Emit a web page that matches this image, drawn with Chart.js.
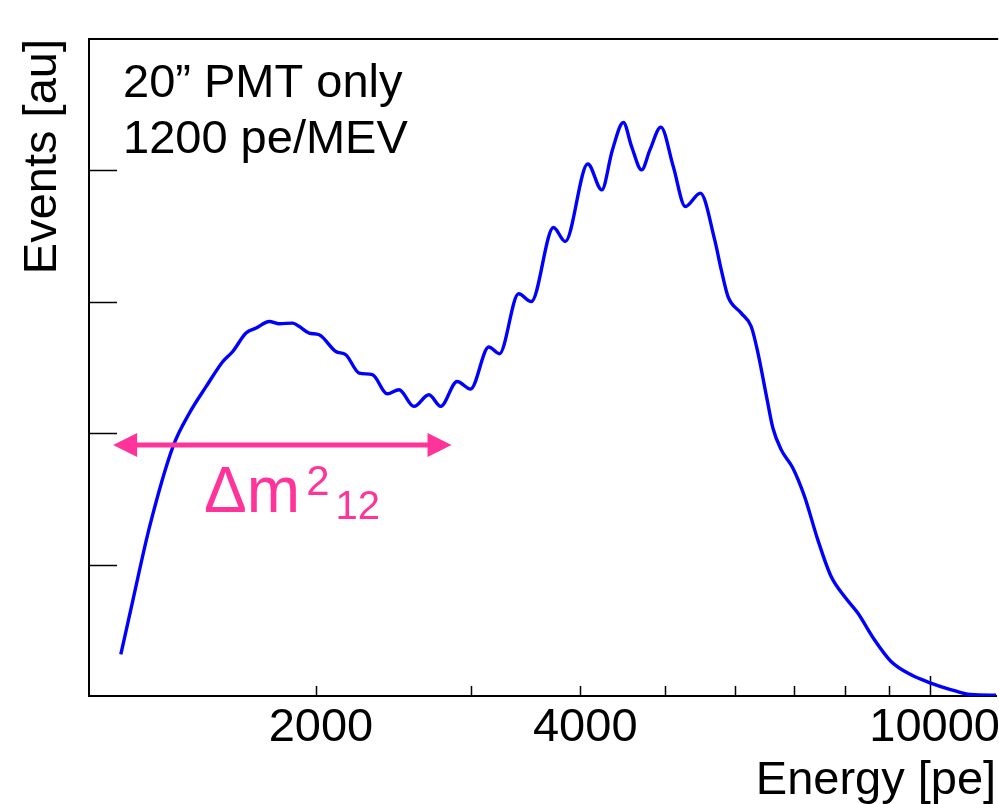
<!DOCTYPE html>
<html>
<head>
<meta charset="utf-8">
<script src="https://cdn.jsdelivr.net/npm/chart.js@4.4.1/dist/chart.umd.min.js"></script>
<style>
  html, body { margin: 0; padding: 0; background: #fff; overflow: hidden; }
  canvas { display: block; }
</style>
</head>
<body>
<canvas id="spectrum" width="999" height="804"></canvas>
<script>
// visible energy spectrum (pe vs arbitrary units)
const energy = [1199, 1238, 1293, 1375, 1436, 1500, 1567, 1608, 1665, 1710,
    1770, 1817, 1882, 1915, 1965, 2017, 2107, 2163, 2240, 2319,
    2412, 2487, 2586, 2690, 2774, 2896, 3000, 3147, 3236, 3403,
    3518, 3729, 3845, 4080, 4232, 4352, 4479, 4577, 4698, 4802,
    4942, 5105, 5270, 5481, 5691, 5790, 5893, 6101, 6263, 6375,
    6530, 6629, 6774, 6985, 7202, 7457, 7721, 7995, 8279, 8648,
    9031, 9515, 10010, 10563, 11134, 11906];
const events = [0.316, 0.734, 1.289, 1.900, 2.156, 2.356, 2.546, 2.622, 2.762, 2.800,
    2.850, 2.833, 2.838, 2.812, 2.762, 2.749, 2.622, 2.597, 2.458, 2.445,
    2.300, 2.331, 2.204, 2.293, 2.204, 2.394, 2.336, 2.656, 2.605, 3.061,
    3.002, 3.565, 3.459, 4.049, 3.852, 4.156, 4.364, 4.181, 4.004, 4.156,
    4.329, 4.029, 3.725, 3.827, 3.471, 3.243, 3.040, 2.914, 2.812, 2.610,
    2.255, 2.040, 1.875, 1.735, 1.519, 1.190, 0.911, 0.759, 0.633, 0.430,
    0.265, 0.163, 0.100, 0.049, 0.011, 0.006];

const xTicks = [2000, 3000, 4000, 5000, 6000, 7000, 8000, 9000, 10000];
const xLabels = [2000, 4000, 10000];
const yTicks = [1, 2, 3, 4];

// arrow showing the delta m^2_12 oscillation period
const arrowFrom = 1175;
const arrowTo = 2854;
const arrowLevel = 1.91;

const fontFamily = '"Liberation Sans", Arial, Helvetica, sans-serif';
const pink = '#ff3399';

// ROOT style frame: top line + inward tick marks
const framePlugin = {
    id: 'frame',
    beforeDatasetsDraw(chart) {
        const ctx = chart.ctx;
        const area = chart.chartArea;
        const x = chart.scales.x;
        const y = chart.scales.y;
        ctx.save();
        ctx.strokeStyle = '#000';
        ctx.lineWidth = 1.5;
        ctx.beginPath();
        xTicks.forEach(function (v) {
            const px = Math.round(x.getPixelForValue(v)) + 0.5;
            const len = v === 10000 ? 20 : 10;
            ctx.moveTo(px, area.bottom);
            ctx.lineTo(px, area.bottom - len);
        });
        yTicks.forEach(function (v) {
            const py = Math.round(y.getPixelForValue(v)) + 0.5;
            ctx.moveTo(area.left, py);
            ctx.lineTo(area.left + 28, py);
        });
        ctx.stroke();
        ctx.lineWidth = 2;
        ctx.beginPath();
        ctx.moveTo(area.left, area.top);
        ctx.lineTo(area.right + 2, area.top);
        ctx.stroke();
        ctx.restore();
    }
};

const notesPlugin = {
    id: 'notes',
    afterDatasetsDraw(chart) {
        const ctx = chart.ctx;
        const area = chart.chartArea;
        const x = chart.scales.x;
        const y = chart.scales.y;
        ctx.save();

        ctx.fillStyle = '#000';
        ctx.font = '47px ' + fontFamily;
        ctx.textBaseline = 'alphabetic';
        ctx.textAlign = 'left';
        ctx.fillText('20\u201D PMT only', area.left + 34, area.top + 58);
        ctx.fillText('1200 pe/MEV', area.left + 34, area.top + 114);

        // double arrow
        const x1 = x.getPixelForValue(arrowFrom);
        const x2 = x.getPixelForValue(arrowTo);
        const ay = y.getPixelForValue(arrowLevel);
        ctx.strokeStyle = pink;
        ctx.fillStyle = pink;
        ctx.lineWidth = 5;
        ctx.beginPath();
        ctx.moveTo(x1 + 20, ay);
        ctx.lineTo(x2 - 20, ay);
        ctx.stroke();
        ctx.beginPath();
        ctx.moveTo(x1, ay);
        ctx.lineTo(x1 + 24, ay - 12);
        ctx.lineTo(x1 + 24, ay + 12);
        ctx.closePath();
        ctx.moveTo(x2, ay);
        ctx.lineTo(x2 - 24, ay - 12);
        ctx.lineTo(x2 - 24, ay + 12);
        ctx.closePath();
        ctx.fill();

        // Δm²₁₂ label
        let tx = x1 + 91;
        const base = ay + 67;
        ctx.font = '64px ' + fontFamily;
        ctx.fillText('\u0394m', tx, base);
        tx += ctx.measureText('\u0394m').width + 6;
        ctx.font = '42px ' + fontFamily;
        ctx.fillText('2', tx, base - 17);
        tx += ctx.measureText('2').width + 6;
        ctx.font = '40px ' + fontFamily;
        ctx.fillText('12', tx, base + 7);

        ctx.restore();
    }
};

new Chart(document.getElementById('spectrum'), {
    type: 'line',
    data: {
        datasets: [
            {
                data: energy.map(function (e, i) { return { x: e, y: events[i] }; }),
                borderColor: '#0000ff',
                borderWidth: 3.4,
                pointRadius: 0,
                fill: false,
                cubicInterpolationMode: 'monotone',
            },
        ],
    },
    options: {
        responsive: false,
        animation: false,
        devicePixelRatio: 1,
        layout: { padding: { top: 39, left: 0, right: 0, bottom: 0 } },
        plugins: {
            legend: { display: false },
            tooltip: { enabled: false },
        },
        scales: {
            x: {
                type: 'logarithmic',
                min: 1103,
                max: 11906,
                afterBuildTicks: function (scale) {
                    scale.ticks = xTicks.map(function (v) { return { value: v }; });
                },
                afterFit: function (scale) {
                    scale.height = 108;
                },
                grid: { drawOnChartArea: false, drawTicks: false },
                border: { display: true, color: '#000', width: 2 },
                ticks: {
                    autoSkip: false,
                    maxRotation: 0,
                    padding: 4,
                    labelOffset: 5,
                    color: '#000',
                    font: { family: fontFamily, size: 47 },
                    callback: function (value) {
                        return xLabels.includes(value) ? String(value) : '';
                    },
                },
                title: {
                    display: true,
                    text: 'Energy [pe]',
                    align: 'end',
                    color: '#000',
                    font: { family: fontFamily, size: 47, lineHeight: 1 },
                    padding: { top: 0, bottom: -1 },
                },
            },
            y: {
                min: 0,
                max: 5,
                afterBuildTicks: function (scale) {
                    scale.ticks = yTicks.map(function (v) { return { value: v }; });
                },
                afterFit: function (scale) {
                    scale.width = 89;
                },
                grid: { drawOnChartArea: false, drawTicks: false },
                border: { display: true, color: '#000', width: 2 },
                ticks: { display: false },
                title: {
                    display: true,
                    text: 'Events [au]',
                    align: 'end',
                    color: '#000',
                    font: { family: fontFamily, size: 47, lineHeight: 1 },
                    padding: { top: 20, bottom: 0 },
                },
            },
        },
    },
    plugins: [framePlugin, notesPlugin],
});
</script>
</body>
</html>
